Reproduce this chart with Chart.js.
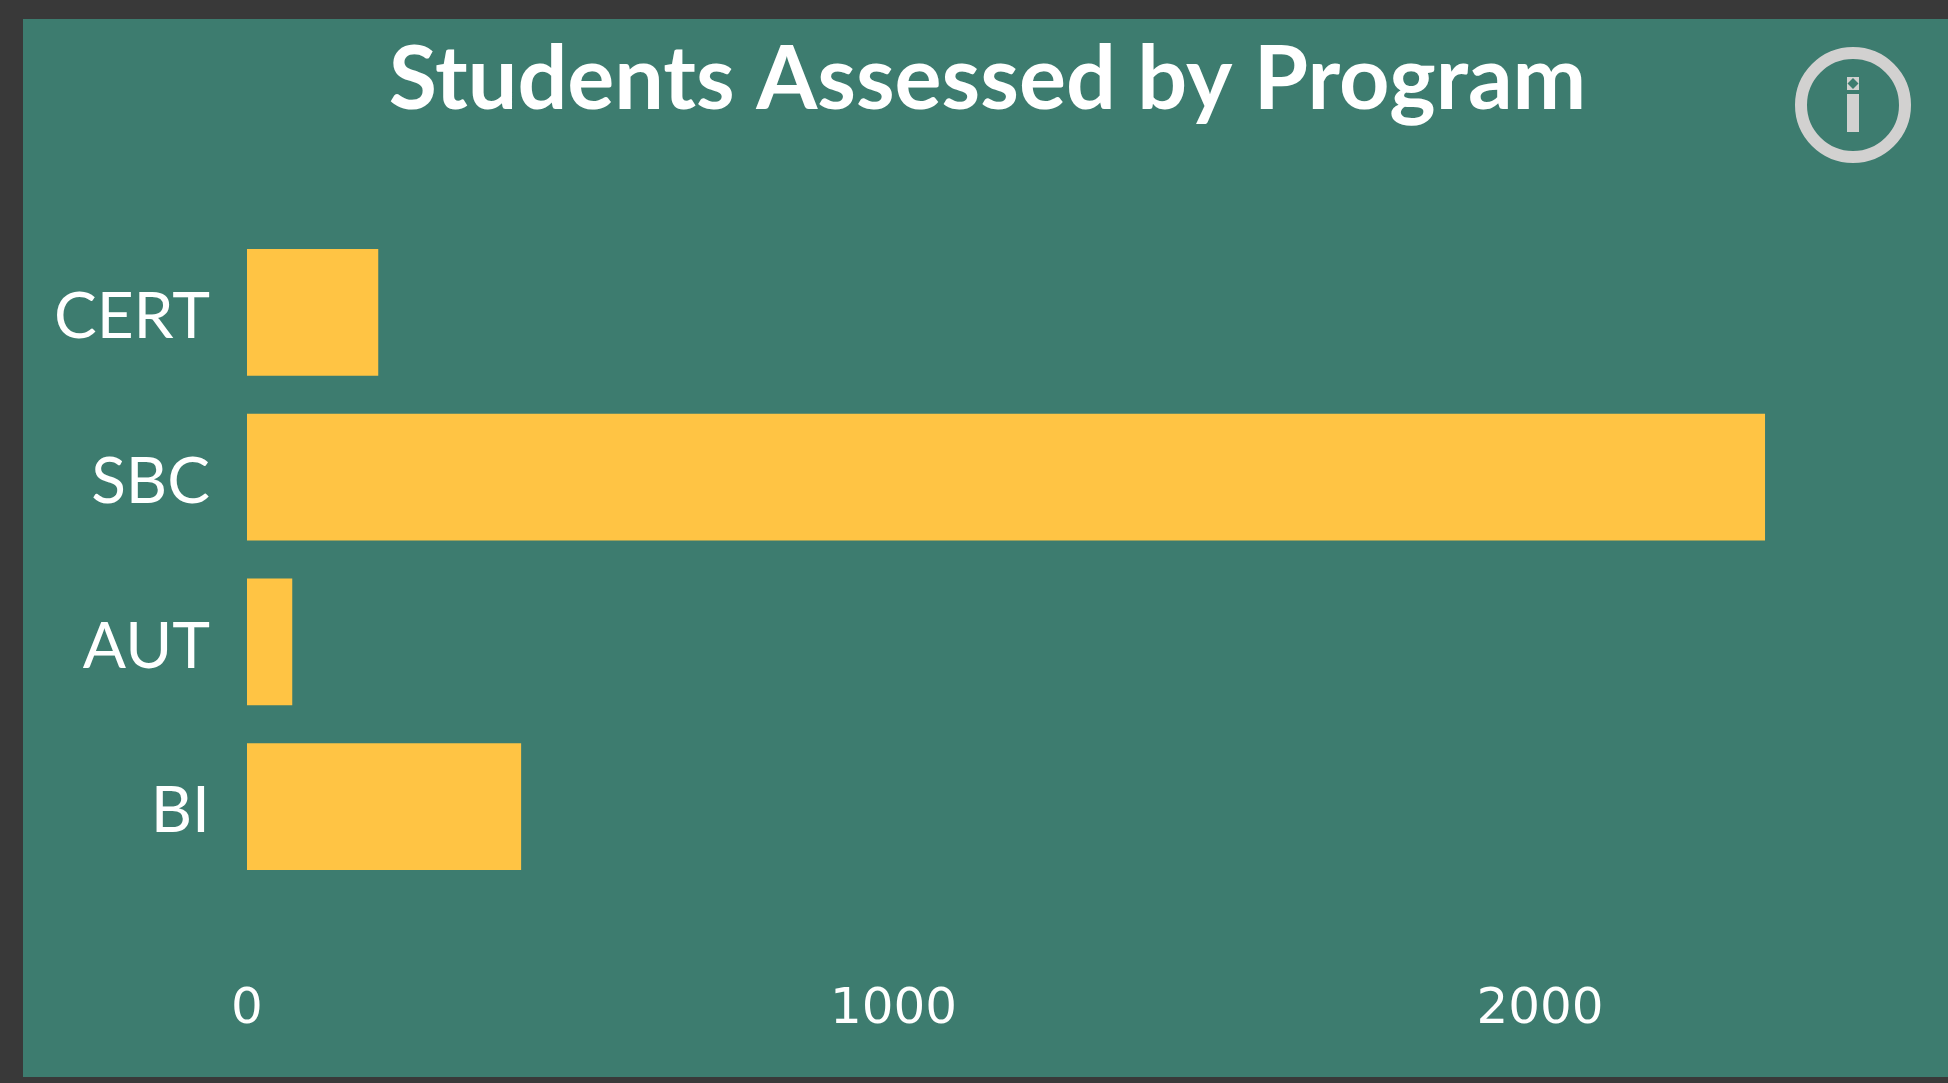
<!DOCTYPE html>
<html>
<head>
<meta charset="utf-8">
<style>
html,body{margin:0;padding:0;width:1948px;height:1083px;background:#393939;overflow:hidden}
#wrap{position:absolute;left:23px;top:19px;width:1925px;height:1058px;background:#3D7C6F}
canvas{display:block}
#info{position:absolute;left:1790px;top:42px}
</style>
<script src="https://cdn.jsdelivr.net/npm/chart.js@4"></script>
</head>
<body>
<div id="wrap"><canvas id="c" width="1925" height="1058"></canvas></div>
<svg id="info" width="126" height="126" viewBox="0 0 126 126">
  <circle cx="63" cy="63" r="52" fill="none" stroke="#D2D1D0" stroke-width="12"/>
  <rect x="57" y="52" width="12" height="38" fill="#D2D1D0"/>
  <rect x="57" y="35" width="12" height="13" fill="#D2D1D0"/>
  <path d="M63 36 L68.5 41.5 L63 47 L57.5 41.5 Z" fill="#3D7C6F"/>
</svg>
<script>
const categories = ["CERT", "SBC", "AUT", "BI"];
const studentsAssessed = [203, 2348, 70, 424];
const xTickValues = [0, 1000, 2000];
const chartTitle = "Students Assessed by Program";

new Chart(document.getElementById("c"), {
  type: "bar",
  data: {
    labels: categories,
    datasets: [{
      data: studentsAssessed,
      backgroundColor: "#FFC444",
      borderWidth: 0,
      categoryPercentage: 1,
      barPercentage: 0.77
    }]
  },
  options: {
    indexAxis: "y",
    responsive: false,
    animation: false,
    devicePixelRatio: 1,
    layout: { padding: { left: 4 } },
    plugins: {
      legend: { display: false },
      tooltip: { enabled: false },
      title: {
        display: true,
        text: chartTitle,
        color: "#FFFFFF",
        font: { family: "Lato", size: 88, weight: "bold", lineHeight: 1.2 },
        padding: { top: 9, bottom: 96.4 }
      }
    },
    scales: {
      x: {
        type: "linear",
        min: 0,
        max: 2631,
        afterBuildTicks: a => { a.ticks = xTickValues.map(v => ({ value: v })); },
        afterFit: s => { s.height = 188; },
        grid: { display: false, drawTicks: false },
        border: { display: false },
        ticks: {
          autoSkip: false,
          maxRotation: 0,
          color: "#FFFFFF",
          padding: 91,
          callback: v => String(v),
          font: { family: "DejaVu Sans", size: 50, lineHeight: 1.2 }
        }
      },
      y: {
        afterFit: s => { s.width = 220; },
        grid: { display: false, drawTicks: false },
        border: { display: false },
        ticks: {
          color: "#FFFFFF",
          padding: 37,
          labelOffset: 5,
          font: { family: "Lato", size: 64, lineHeight: 1.2 }
        }
      }
    }
  }
});
</script>
</body>
</html>
